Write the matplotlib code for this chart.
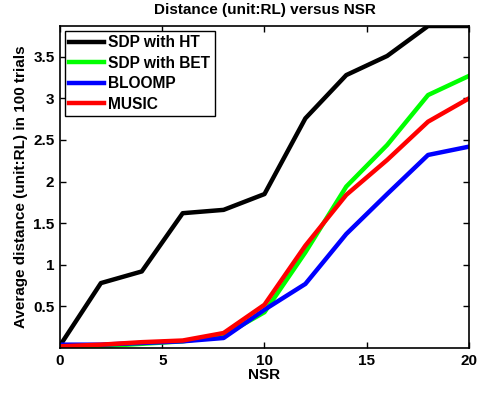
import numpy as np
import matplotlib.pyplot as plt

plt.rcParams['font.family'] = ['Liberation Sans', 'DejaVu Sans']
plt.rcParams['font.weight'] = 'bold'

nsr = [0, 2, 4, 6, 8, 10, 12, 14, 16, 18, 20]
sdp_ht = [0.03, 0.78, 0.92, 1.62, 1.66, 1.85, 2.76, 3.28, 3.51, 3.87, 3.87]
sdp_bet = [0.0, 0.02, 0.05, 0.08, 0.15, 0.43, 1.15, 1.94, 2.44, 3.04, 3.27]
bloomp = [0.04, 0.04, 0.06, 0.08, 0.12, 0.46, 0.77, 1.37, 1.85, 2.32, 2.42]
music = [0.02, 0.04, 0.07, 0.09, 0.18, 0.52, 1.23, 1.84, 2.26, 2.72, 3.0]

fig = plt.figure(figsize=(4.79, 3.94), dpi=100)
ax = fig.add_axes([0.1253, 0.1168, 0.8537, 0.8172])

lw = 3.2
ax.plot(nsr, sdp_ht, color='k', lw=lw, label='SDP with HT')
ax.plot(nsr, sdp_bet, color='#00ff00', lw=lw, label='SDP with BET')
ax.plot(nsr, bloomp, color='#0000ff', lw=lw, label='BLOOMP')
ax.plot(nsr, music, color='#ff0000', lw=lw, label='MUSIC')

ax.set_xlim(0, 20)
ax.set_ylim(0, 3.87)
ax.set_xticks([0, 5, 10, 15, 20])
ax.set_yticks([0.5, 1, 1.5, 2, 2.5, 3, 3.5])
ax.set_yticklabels(['0.5', '1', '1.5', '2', '2.5', '3', '3.5'])
ax.tick_params(direction='in', top=True, right=True, length=4, width=1, labelsize=11, pad=4)
for s in ax.spines.values():
    s.set_linewidth(1.2)

ax.set_xlabel('NSR', fontsize=11, fontweight='bold', labelpad=0)
ax.set_ylabel('Average distance (unit:RL) in 100 trials', fontsize=11, fontweight='bold', labelpad=4)
ax.set_title('Distance (unit:RL) versus NSR', fontsize=11, fontweight='bold', pad=9)

leg = ax.legend(loc='upper left', fontsize=11.2, fancybox=False, edgecolor='k',
                framealpha=1, handlelength=2.2, handletextpad=0.3, labelspacing=0.35,
                borderpad=0.3, borderaxespad=0.3)
leg.get_frame().set_linewidth(1.0)

fig.savefig('out.png', dpi=100)
